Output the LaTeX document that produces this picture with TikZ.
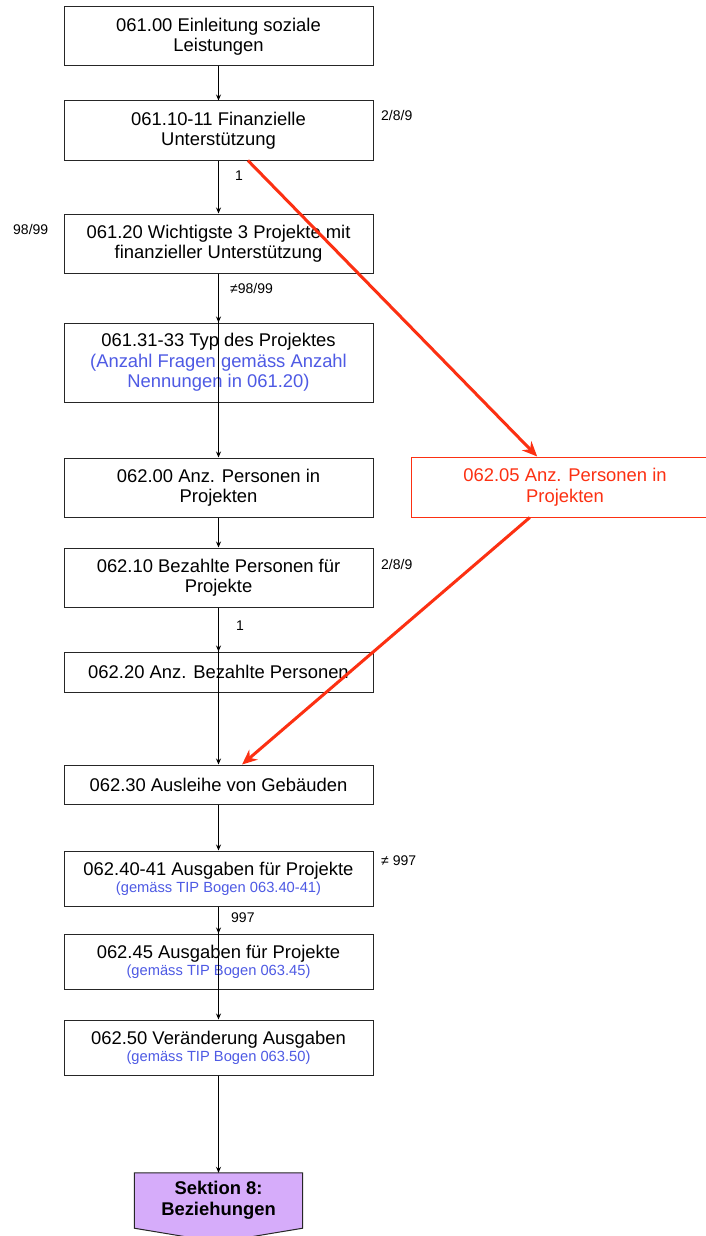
\documentclass[tikz,border=0pt]{standalone}
\usepackage{fontspec}
\setmainfont{Liberation Sans}
\usepackage{tikz}
\usetikzlibrary{calc,arrows.meta,backgrounds}
\definecolor{qred}{RGB}{252,48,18}
\definecolor{qblue}{RGB}{78,90,228}
\definecolor{qpurple}{RGB}{214,172,250}
\newcommand{\qfont}{\fontsize{18.4}{20.5}\selectfont}
\newcommand{\notefont}{\fontsize{14.7}{17}\selectfont}
\newcommand{\condfont}{\fontsize{14}{16}\selectfont}

\begin{document}
\begin{tikzpicture}[x=1pt,y=-1pt,
    qbox/.style={draw=black!85,line width=1pt,minimum width=309pt,align=center,inner sep=1pt,font=\qfont},
    redbox/.style={qbox,draw=qred,text=qred,minimum width=308pt},
    secbox/.style={minimum width=168pt,minimum height=55pt,align=center,inner sep=0pt,font=\qfont\bfseries},
    cond/.style={font=\condfont,inner sep=0pt,anchor=west},
    flow/.style={-{Stealth[length=6pt,width=5pt]},line width=0.9pt},
    jump/.style={-{Stealth[length=15pt,width=13pt]},line width=3pt,draw=qred}]
  \useasboundingbox (0,0) rectangle (706,1236);

  \node[qbox,minimum height=59pt] (b1) at (218.5,36.5) {061.00 Einleitung soziale\\Leistungen};
  \node[qbox,minimum height=59pt] (b2) at (218.5,130.5) {061.10-11 Finanzielle\\Unterstützung};
  \node[qbox,minimum height=59pt] (b3) at (218.5,243.5) {061.20 Wichtigste 3 Projekte mit\\finanzieller Unterstützung};
  \node[qbox,minimum height=79pt] (b4) at (218.5,362.5) {061.31-33 Typ des Projektes\\
    \textcolor{qblue}{(Anzahl Fragen gemäss Anzahl}\\\textcolor{qblue}{Nennungen in 061.20)}};
  \node[qbox,minimum height=59pt] (b5) at (218.5,487.5) {062.00 Anz. Personen in\\Projekten};
  \node[redbox,minimum height=60pt] (r5) at (565,487) {062.05 Anz. Personen in\\Projekten};
  \node[qbox,minimum height=59pt] (b6) at (218.5,577.5) {062.10 Bezahlte Personen für\\Projekte};
  \node[qbox,minimum height=40pt] (b7) at (218.5,672) {062.20 Anz. Bezahlte Personen};
  \node[qbox,minimum height=39pt] (b8) at (218.5,784.5) {062.30 Ausleihe von Gebäuden};
  \node[qbox,minimum height=55pt] (b9) at (218.5,878.5) {062.40-41 Ausgaben für Projekte\\[-3.5pt]
    {\notefont\color{qblue}(gemäss TIP Bogen 063.40-41)}};
  \node[qbox,minimum height=55pt] (b10) at (218.5,961.5) {062.45 Ausgaben für Projekte\\[-3.5pt]
    {\notefont\color{qblue}(gemäss TIP Bogen 063.45)}};
  \node[qbox,minimum height=55pt] (b11) at (218.5,1047.5) {062.50 Veränderung Ausgaben\\[-3.5pt]
    {\notefont\color{qblue}(gemäss TIP Bogen 063.50)}};
  \node[secbox] (s8) at (218.5,1200.5) {Sektion 8:\\Beziehungen};
  \begin{pgfonlayer}{background}
    \fill[white] (0,0) rectangle (706,1236);
    \draw[fill=qpurple,draw=black!85,line width=1pt] (s8.north west) -- (s8.north east)
      -- (s8.south east) -- ($(s8.south)+(0,14)$) -- (s8.south west) -- cycle;
  \end{pgfonlayer}

  % conditions
  \node[cond] (c1) at (381,115) {2/8/9};
  \node[cond] (c2) at (235,176) {1};
  \node[cond] (c3) at (13,229) {98/99};
  \node[cond] (c4) at (230,288) {≠98/99};
  \node[cond] (c5) at (381,564) {2/8/9};
  \node[cond] (c6) at (236,626) {1};
  \node[cond] (c7) at (381,861) {≠ 997};
  \node[cond] (c8) at (231,918) {997};

  \draw[flow] (b1) -- (b2);
  \draw[flow] (b2) -- (b3);
  \draw[flow] (b3) -- (b4);
  \draw[flow] (b3.south) -- (b5.north);
  \draw[flow] (b5) -- (b6);
  \draw[flow] (b6) -- (b7);
  \draw[flow] (b6.south) -- (b8.north);
  \draw[flow] (b8) -- (b9);
  \draw[flow] (b9) -- (b10);
  \draw[flow] (b9.south) -- (b11.north);
  \draw[flow] (b11.south) -- (s8.north);

  \draw[jump] ($(b2.south west)!.595!(b2.south east)$) -- ($(r5.north west)!.41!(r5.north east)$);
  \draw[jump] ($(r5.south west)!.386!(r5.south east)$) -- ($(b8.north west)!.576!(b8.north east)$);
\end{tikzpicture}
\end{document}
